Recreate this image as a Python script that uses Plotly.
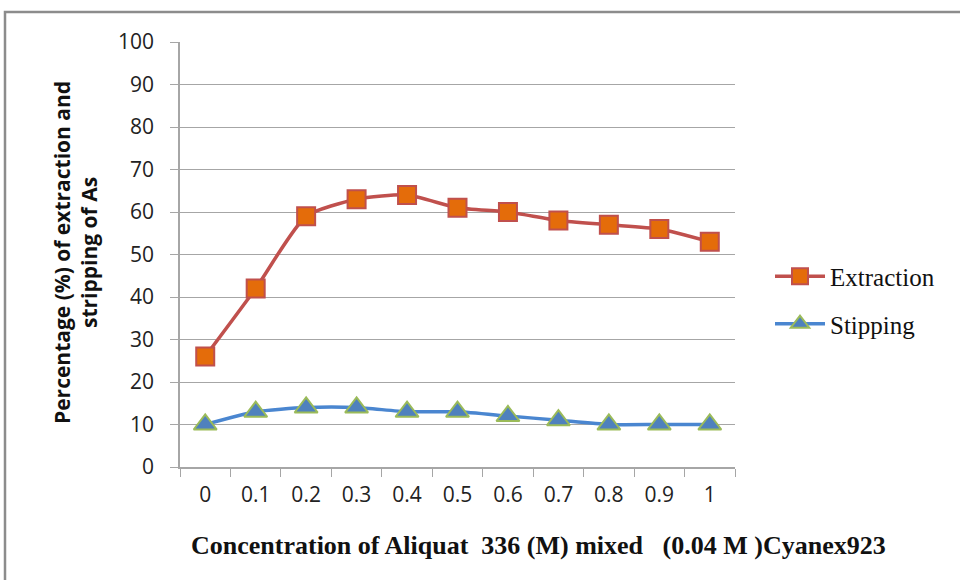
import plotly.graph_objects as go

# Aliquat 336 concentration (M) and recoveries (%)
concentration = ["0", "0.1", "0.2", "0.3", "0.4", "0.5", "0.6", "0.7", "0.8", "0.9", "1"]
extraction = [26, 42, 59, 63, 64, 61, 60, 58, 57, 56, 53]
stripping = [10, 13, 14, 14, 13, 13, 12, 11, 10, 10, 10]

fig = go.Figure()

fig.add_trace(go.Scatter(
    x=concentration, y=extraction, name="Extraction", legendgroup="a",
    mode="lines+markers", line=dict(color="#C0504D", width=3.5, shape="spline", smoothing=0.6),
    marker=dict(symbol="square", size=18, color="#E46C0A", line=dict(color="#C0504D", width=2)),
))
fig.add_trace(go.Scatter(
    x=concentration, y=stripping, name="Stipping", legendgroup="b",
    mode="lines+markers", line=dict(color="#4A86D0", width=3.5, shape="spline", smoothing=0.6),
    marker=dict(symbol="triangle-up", size=20, color="#4F81BD", line=dict(color="#9BBB59", width=2)),
))

grey = "#A6A6A6"
fig.update_xaxes(
    type="category", tickson="boundaries", ticks="outside", ticklen=8, tickcolor=grey,
    showline=True, linecolor=grey, linewidth=1.5, showgrid=False,
    tickfont=dict(family="Open Sans", size=21, color="#222"), ticklabelstandoff=8,
    range=[-0.5, 10.5],
)
fig.update_yaxes(
    range=[0, 100], dtick=10, ticks="outside", ticklen=8, tickcolor=grey,
    showline=True, linecolor=grey, linewidth=1.5,
    showgrid=True, gridcolor=grey, gridwidth=1.2, zeroline=False,
    tickfont=dict(family="Open Sans", size=21, color="#222"), ticklabelstandoff=12,
)

# outer chart frame
fig.add_shape(type="rect", xref="paper", yref="paper",
              x0=(5 - 180) / 555, x1=1.6, y0=-0.5, y1=(467 - 12) / 425,
              line=dict(color="#8C8C8C", width=2.5), fillcolor="rgba(0,0,0,0)", layer="below")

fig.add_annotation(
    text="<b>Percentage (%) of extraction and<br>stripping of As</b>",
    xref="paper", yref="paper", x=(75 - 180) / 555, y=(467 - 253) / 425,
    textangle=-90, showarrow=False, xanchor="center", yanchor="middle",
    font=dict(family="Open Sans", size=21, color="#111"),
)
fig.add_annotation(
    text="<b>Concentration of Aliquat  336 (M) mixed   (0.04 M )Cyanex923</b>",
    xref="paper", yref="paper", x=(538 - 180) / 555, y=-(545 - 467) / 425,
    showarrow=False, xanchor="center", yanchor="middle",
    font=dict(family="Liberation Serif", size=26, color="#111"),
)

fig.update_layout(
    width=960, height=580,
    margin=dict(l=180, r=225, t=42, b=113),
    paper_bgcolor="white", plot_bgcolor="white",
    showlegend=True,
    legend=dict(x=(770 - 180) / 555, y=(467 - 300) / 425, xanchor="left", yanchor="middle",
                font=dict(family="Liberation Serif", size=25, color="#111"),
                tracegroupgap=12, itemwidth=50, bgcolor="rgba(0,0,0,0)"),
)

fig.write_html("out.html")
